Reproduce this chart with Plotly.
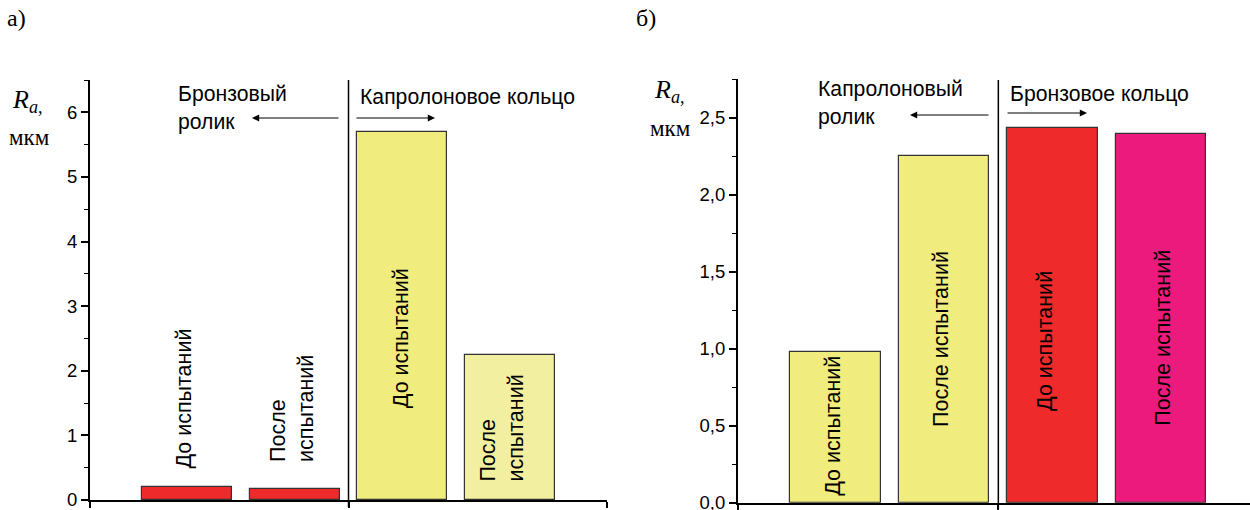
import plotly.graph_objects as go

# ---------------- data ----------------
bar_positions = [1, 2, 3, 4]
labels_a = ["До испытаний", "После<br>испытаний", "До испытаний", "После<br>испытаний"]
values_a = [0.20, 0.17, 5.70, 2.25]
colors_a = ["#EE2A2A", "#EE2A2A", "#F0EC7E", "#F2EFA0"]

labels_b = ["До испытаний", "После испытаний", "До испытаний", "После испытаний"]
values_b = [0.98, 2.25, 2.43, 2.39]
colors_b = ["#F0EC7E", "#F0EC7E", "#EE2A2A", "#EC1A7C"]

yticks_a = [0, 1, 2, 3, 4, 5, 6]
yticktext_a = ["0", "1", "2", "3", "4", "5", "6"]
yticks_b = [0.0, 0.5, 1.0, 1.5, 2.0, 2.5]
yticktext_b = ["0,0", "0,5", "1,0", "1,5", "2,0", "2,5"]

W, H = 1250, 510
def px(x):
    return x / W
def py(y):
    return 1 - y / H

SANS = "Liberation Sans, Arial, sans-serif"
SERIF = "Liberation Serif, Times New Roman, serif"

fig = go.Figure()
fig.add_trace(go.Bar(x=bar_positions, y=values_a, width=0.836,
                     marker=dict(color=colors_a, line=dict(color="#333333", width=1.2)),
                     xaxis="x", yaxis="y", showlegend=False, hoverinfo="skip"))
fig.add_trace(go.Bar(x=bar_positions, y=values_b, width=0.836,
                     marker=dict(color=colors_b, line=dict(color="#333333", width=1.2)),
                     xaxis="x2", yaxis="y2", showlegend=False, hoverinfo="skip"))

xcommon = dict(showline=True, linewidth=2, linecolor="black", showgrid=False,
               zeroline=False, ticks="outside", ticklen=6, tickwidth=1.5, tickcolor="black",
               showticklabels=False)
ycommon = dict(showline=True, linewidth=2, linecolor="black", showgrid=False,
               zeroline=False, ticks="outside", ticklen=7, tickwidth=1.5, tickcolor="black",
               tickfont=dict(family=SANS, size=18.5, color="black"), automargin=False,
               ticklabeloverflow="allow")

fig.update_layout(
    width=W, height=H, margin=dict(l=0, r=0, t=0, b=0),
    paper_bgcolor="white", plot_bgcolor="rgba(0,0,0,0)",
    bargap=0,
    xaxis=dict(domain=[px(90), px(607)], range=[0.1, 4.9], tickvals=[0.1, 2.5, 4.9],
               anchor="y", **xcommon),
    yaxis=dict(domain=[(H - 500) / H, (H - 80) / H], range=[0, 6.5], anchor="x",
               tickvals=yticks_a, ticktext=yticktext_a,
               minor=dict(ticks="outside", dtick=0.5, ticklen=4, tickwidth=1.2, tickcolor="black"),
               **ycommon),
    xaxis2=dict(domain=[px(738), 1.0], range=[0.1, 4.82], tickvals=[0.1, 2.5],
                anchor="y2", **xcommon),
    yaxis2=dict(domain=[(H - 502.7) / H, (H - 79) / H], range=[0, 2.75], anchor="x2",
                tickvals=yticks_b, ticktext=yticktext_b,
                minor=dict(ticks="outside", dtick=0.25, ticklen=4, tickwidth=1.2, tickcolor="black"),
                **ycommon),
)

# divider lines
fig.add_shape(type="line", xref="x", yref="paper", x0=2.5, x1=2.5, y0=py(507), y1=py(80),
              line=dict(color="black", width=1.5))
fig.add_shape(type="line", xref="x2", yref="paper", x0=2.5, x1=2.5, y0=py(509), y1=py(80),
              line=dict(color="black", width=1.5))

ann = []
LABEL_FONT = dict(family=SANS, size=21.5, color="black")
# bar labels (rotated)
lab_pos_a = [(0.973, 1.57), (1.976, 1.41), (2.994, 2.50), (3.925, 1.12)]
for (lx, ly), t in zip(lab_pos_a, labels_a):
    ann.append(dict(x=lx, y=ly, xref="x", yref="y", text=t, textangle=-90, showarrow=False,
                    align="left", font=LABEL_FONT))
lab_pos_b = [(0.976, 0.50), (1.977, 1.06), (2.93, 1.05), (4.017, 1.07)]
for (lx, ly), t in zip(lab_pos_b, labels_b):
    ann.append(dict(x=lx, y=ly, xref="x2", yref="y2", text=t, textangle=-90, showarrow=False,
                    align="left", font=LABEL_FONT))

def ptext(x, y, text, font, xanchor="left", align="left"):
    ann.append(dict(x=px(x), y=py(y), xref="paper", yref="paper", text=text, showarrow=False,
                    xanchor=xanchor, yanchor="middle", align=align, font=font))

serif_lbl = dict(family=SERIF, size=24, color="black")
sans_hdr = dict(family=SANS, size=21.2, color="black")
ra_font = dict(family=SERIF, size=26, color="black")
mkm_font = dict(family=SERIF, size=23, color="black")
ptext(5, 18, "а)", serif_lbl)
ptext(634, 18, "б)", serif_lbl)
ptext(10, 101, "<i>R</i><sub><i>a</i>,</sub>", ra_font)
ptext(7, 138, "мкм", mkm_font)
ptext(652, 91, "<i>R</i><sub><i>a</i>,</sub>", ra_font)
ptext(648, 128, "мкм", mkm_font)

ptext(176, 108, "Бронзовый<br>ролик", sans_hdr)
ptext(358, 97, "Капролоновое кольцо", sans_hdr)
ptext(816, 103, "Капролоновый<br>ролик", sans_hdr)
ptext(1008, 94, "Бронзовое кольцо", sans_hdr)

def arrow(x_tail, x_head, y):
    ann.append(dict(x=px(x_head), y=py(y), ax=x_tail - x_head, ay=0, xref="paper", yref="paper",
                    axref="pixel", ayref="pixel", text="", showarrow=True, arrowhead=2,
                    arrowsize=1.2, arrowwidth=1.2, arrowcolor="black", standoff=0))

arrow(340, 252, 118)
arrow(355, 435, 118)
arrow(990, 910, 115)
arrow(1006, 1087, 113)

fig.update_layout(annotations=ann)

fig.write_html("out.html", config={"displayModeBar": False},
               post_script="document.body.style.margin='0';document.body.style.overflow='hidden';")
